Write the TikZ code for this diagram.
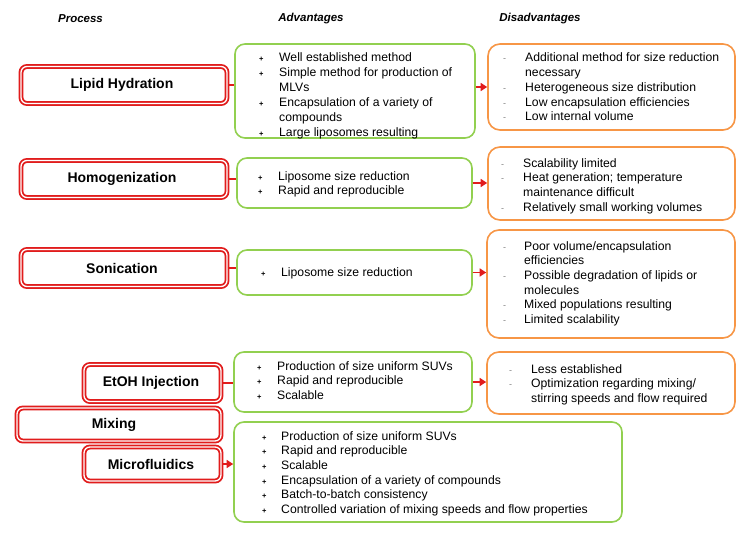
\documentclass[tikz,border=0pt]{standalone}
\usepackage{fontspec}
\setmainfont{Liberation Sans}
\usetikzlibrary{arrows.meta,shadows}
\definecolor{procred}{RGB}{225,28,28}
\definecolor{advgreen}{RGB}{146,208,80}
\definecolor{disorange}{RGB}{247,150,70}
\newcommand\bp{\makebox[20pt][l]{\fontsize{7.5}{7.5}\selectfont\bfseries +}}
\newcommand\bq{\makebox[19pt][l]{\fontsize{7.5}{7.5}\selectfont\bfseries +}}
\newcommand\dm{\makebox[22pt][l]{\fontsize{9}{9}\selectfont\color{black!50}-}}
\newcommand\dn{\makebox[21pt][l]{\fontsize{9}{9}\selectfont\color{black!50}-}}
\tikzset{
  hdr/.style={font=\fontsize{11.5}{13}\selectfont\bfseries\itshape, inner sep=0pt},
  procbox/.style={draw=procred, double=white, double distance=1.3pt, line width=1.8pt,
    rounded corners=6pt, fill=white, inner sep=0pt,
    drop shadow={shadow xshift=1pt, shadow yshift=-2pt, opacity=0.35}},
  ptext/.style={inner sep=0pt, font=\fontsize{14}{16}\selectfont\bfseries},
  advbox/.style={draw=advgreen, line width=1.6pt, rounded corners=10pt, inner sep=0pt},
  disbox/.style={draw=disorange, line width=1.6pt, rounded corners=12pt, inner sep=0pt},
  txt/.style={inner sep=0pt, anchor=base west, font=\fontsize{12.2}{14.7}\selectfont},
  link/.style={draw=procred, line width=1.5pt},
  arr/.style={draw=procred, line width=1.5pt, -{Triangle[length=6.5pt,width=8pt]}},
}
\begin{document}
\begin{tikzpicture}[x=1pt,y=-1pt]
\useasboundingbox[fill=white] (0,0) rectangle (750,535);

% headers
\node[hdr] (h1) at (80.5,19) {Process};
\node[hdr] (h2) at (311,19) {Advantages};
\node[hdr] (h3) at (540,19) {Disadvantages};

% process boxes
\node[procbox, minimum width=206pt, minimum height=37pt] (p1) at (124,85) {};
\node[ptext] (p1t) at (122,85) {Lipid Hydration};
\node[procbox, minimum width=206pt, minimum height=37pt] (p2) at (124,179) {};
\node[ptext] (p2t) at (122,179) {Homogenization};
\node[procbox, minimum width=206pt, minimum height=37pt] (p3) at (124,268) {};
\node[ptext] (p3t) at (122,268) {Sonication};
\node[procbox, minimum width=137pt, minimum height=37pt] (p4) at (152.5,383) {};
\node[ptext] (p4t) at (151,383) {EtOH Injection};
\node[procbox, minimum width=204pt, minimum height=33pt] (p5) at (119,424.5) {};
\node[ptext] (p5t) at (114,424.5) {Mixing};
\node[procbox, minimum width=137pt, minimum height=34pt] (p6) at (152.5,464) {};
\node[ptext] (p6t) at (151,464) {Microfluidics};

% advantage boxes
\node[advbox, minimum width=240pt, minimum height=94pt] (a1) at (355,91) {};
\node[advbox, minimum width=235pt, minimum height=50pt] (a2) at (354.5,183) {};
\node[advbox, minimum width=235pt, minimum height=45pt] (a3) at (354.5,272.5) {};
\node[advbox, minimum width=238pt, minimum height=60pt] (a4) at (353,382) {};
\node[advbox, minimum width=388pt, minimum height=100pt] (a5) at (428,472) {};

% disadvantage boxes
\node[disbox, minimum width=247pt, minimum height=86pt] (d1) at (611.5,87) {};
\node[disbox, minimum width=247pt, minimum height=73pt] (d2) at (611.5,183.5) {};
\node[disbox, minimum width=248pt, minimum height=108pt] (d3) at (611,284) {};
\node[disbox, minimum width=248pt, minimum height=62pt] (d4) at (611,383) {};

% advantage texts
\node[txt, font=\fontsize{12.2}{15}\selectfont] (a1t) at (259,61.5) {\begin{tabular}[t]{@{}l@{}}
\bp Well established method\\
\bp Simple method for production of\\
\hspace*{20pt}MLVs\\
\bp Encapsulation of a variety of\\
\hspace*{20pt}compounds\\
\bp Large liposomes resulting
\end{tabular}};
\node[txt] (a2t) at (258,180) {\begin{tabular}[t]{@{}l@{}}
\bp Liposome size reduction\\
\bp Rapid and reproducible
\end{tabular}};
\node[txt] (a3t) at (261,276) {\begin{tabular}[t]{@{}l@{}}
\bp Liposome size reduction
\end{tabular}};
\node[txt] (a4t) at (257,370) {\begin{tabular}[t]{@{}l@{}}
\bp Production of size uniform SUVs\\
\bp Rapid and reproducible\\
\bp Scalable
\end{tabular}};
\node[txt] (a5t) at (262,440) {\begin{tabular}[t]{@{}l@{}}
\bq Production of size uniform SUVs\\
\bq Rapid and reproducible\\
\bq Scalable\\
\bq Encapsulation of a variety of compounds\\
\bq Batch-to-batch consistency\\
\bq Controlled variation of mixing speeds and flow properties
\end{tabular}};

% disadvantage texts
\node[txt] (d1t) at (503,62) {\begin{tabular}[t]{@{}l@{}}
\dm Additional method for size reduction\\
\hspace*{22pt}necessary\\
\dm Heterogeneous size distribution\\
\dm Low encapsulation efficiencies\\
\dm Low internal volume
\end{tabular}};
\node[txt] (d2t) at (501,167) {\begin{tabular}[t]{@{}l@{}}
\dm Scalability limited\\
\dm Heat generation; temperature\\
\hspace*{22pt}maintenance difficult\\
\dm Relatively small working volumes
\end{tabular}};
\node[txt] (d3t) at (503,250) {\begin{tabular}[t]{@{}l@{}}
\dn Poor volume/encapsulation\\
\hspace*{21pt}efficiencies\\
\dn Possible degradation of lipids or\\
\hspace*{21pt}molecules\\
\dn Mixed populations resulting\\
\dn Limited scalability
\end{tabular}};
\node[txt] (d4t) at (509,373) {\begin{tabular}[t]{@{}l@{}}
\dm Less established\\
\dm Optimization regarding mixing/\\
\hspace*{22pt}stirring speeds and flow required
\end{tabular}};

% connectors
\draw[link] (p1.east) -- (p1.east -| a1.west);
\draw[link] (p2.east) -- (p2.east -| a2.west);
\draw[link] (p3.east) -- (p3.east -| a3.west);
\draw[link] (p4.east) -- (p4.east -| a4.west);
\draw[arr] (p6.east) -- (p6.east -| a5.west);
\draw[arr] (d1.west -| a1.east) -- (d1.west);
\draw[arr] (a2.east) -- (a2.east -| d2.west);
\draw[arr] (a3.east) -- (a3.east -| d3.west);
\draw[arr] (a4.east) -- (a4.east -| d4.west);
\end{tikzpicture}
\end{document}
